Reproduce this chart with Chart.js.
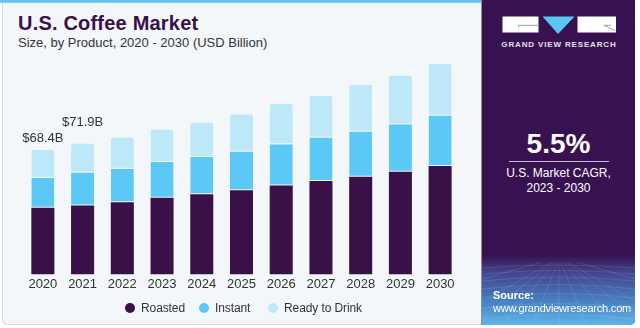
<!DOCTYPE html>
<html>
<head>
<meta charset="utf-8">
<script src="https://cdn.jsdelivr.net/npm/chart.js@4.4.1/dist/chart.umd.min.js"></script>
<style>
  html, body { margin: 0; padding: 0; background: #ffffff; }
  body { width: 640px; height: 328px; position: relative; overflow: hidden;
         font-family: "Liberation Sans", Arial, sans-serif; }
  #main { position: absolute; left: 2px; top: 0; width: 478px; height: 324px;
          background: #f3f7fa; border: 1px solid #d3d8dd; border-top: none;
          border-radius: 0 0 0 6px; }
  #strip { position: absolute; left: 0; top: 0; width: 481px; height: 3px;
           background: linear-gradient(#5cc6f2 0, #5cc6f2 2px, #a9def5 3px); }
  #title { position: absolute; left: 18px; top: 12px; font-size: 20px; font-weight: bold;
           color: #3a1048; letter-spacing: 0.2px; }
  #subtitle { position: absolute; left: 18px; top: 35px; font-size: 13px; color: #333333; }
  #chartBox { position: absolute; left: 0; top: 0; width: 481px; height: 328px; }
  #legend { position: absolute; left: 0; top: 299px; width: 481px; height: 18px;
            font-size: 12px; color: #333; letter-spacing: -0.1px; }
  .lg-item { position: absolute; top: 0; height: 18px; line-height: 18px; white-space: nowrap; }
  .lg-dot { position: absolute; top: 4px; width: 10px; height: 10px; border-radius: 50%; }
  #side { position: absolute; left: 481px; top: 0; width: 153px; height: 325px;
          background: #381250; border-radius: 0 0 5px 0; overflow: hidden;
          border-left: 1px solid #8a8f99; }
  #sideFade { position: absolute; left: 0; top: 255px; width: 153px; height: 70px;
              background: linear-gradient(rgba(70,110,190,0) 0%, rgba(70,110,190,0.55) 25%, #4a86c8 70%, #5fb4e6 100%); }
  #grid { position: absolute; left: 0; top: 262px; }
  #logo { position: absolute; left: 0; top: 0; }
  #cagr { position: absolute; left: 0; width: 153px; top: 128px; text-align: center;
          color: #ffffff; font-size: 28px; font-weight: bold; }
  #rule { position: absolute; left: 27px; top: 161px; width: 100px; height: 1px; background: #c9bfd2; }
  #cagrTxt { position: absolute; left: 0; width: 153px; top: 166px; text-align: center;
             color: #ffffff; font-size: 12px; line-height: 14.5px; }
  #src1 { position: absolute; left: 11px; top: 289px; color: #fff; font-size: 11px; font-weight: bold; }
  #src2 { position: absolute; left: 11px; top: 302px; color: #fff; font-size: 11px; letter-spacing: -0.2px; }
</style>
</head>
<body>
<div id="main"></div>
<div id="strip"></div>
<div id="title">U.S. Coffee Market</div>
<div id="subtitle">Size, by Product, 2020 - 2030 (USD Billion)</div>
<div id="chartBox"><canvas id="c" width="481" height="328"></canvas></div>
<div id="legend"></div>

<div id="side">
  <div id="sideFade"></div>
  <svg id="grid" width="153" height="63" viewBox="0 0 153 63">
    <g stroke="#ffffff" stroke-opacity="0.16" stroke-width="0.7" fill="none">
      <path d="M0 6 Q76 0 153 6"/>
      <path d="M0 12 Q76 5 153 12"/>
      <path d="M0 19 Q76 11 153 19"/>
      <path d="M0 27 Q76 18 153 27"/>
      <path d="M0 36 Q76 27 153 36"/>
      <path d="M0 46 Q76 37 153 46"/>
      <path d="M0 57 Q76 48 153 57"/>
      <path d="M70 0 L-40 63"/><path d="M72 0 L-10 63"/><path d="M74 0 L20 63"/>
      <path d="M76 0 L50 63"/><path d="M77 0 L77 63"/><path d="M79 0 L104 63"/>
      <path d="M81 0 L134 63"/><path d="M83 0 L164 63"/><path d="M85 0 L194 63"/>
      <path d="M60 0 L-80 40"/><path d="M95 0 L230 40"/>
    </g>
  </svg>
  <svg id="logo" width="153" height="50" viewBox="0 0 153 50">
    <rect x="20.5" y="16.5" width="36" height="16" fill="#ffffff"/>
    <polygon points="60.5,16.5 92.5,16.5 76,34" fill="#5cc6f2"/>
    <rect x="95.5" y="16.5" width="38.5" height="16" fill="#ffffff"/>
    <path d="M36.5 25.3 H56.5 M36.5 25.3 V27.5" stroke="#8a8790" stroke-width="0.8" fill="none"/>
    <path d="M122 25.3 H129 M122 25.3 L133.3 30.7" stroke="#8a8790" stroke-width="0.8" fill="none"/>
    <text x="77" y="47.2" text-anchor="middle" fill="#e4e0ea" font-family="Liberation Sans, Arial, sans-serif"
          font-size="8" font-weight="bold" letter-spacing="0.85">GRAND VIEW RESEARCH</text>
  </svg>
  <div id="cagr">5.5%</div>
  <div id="rule"></div>
  <div id="cagrTxt">U.S. Market CAGR,<br>2023 - 2030</div>
  <div id="src1">Source:</div>
  <div id="src2">www.grandviewresearch.com</div>
</div>

<script>
// Market size by product type, USD billion
const years = ['2020', '2021', '2022', '2023', '2024', '2025', '2026', '2027', '2028', '2029', '2030'];
const roasted = [36.7, 37.9, 39.7, 42.1, 44.1, 46.3, 48.8, 51.4, 53.7, 56.4, 59.6];
const instant = [16.4, 18.1, 18.4, 19.7, 20.4, 21.3, 22.8, 23.9, 24.8, 26.1, 27.7];
const readyToDrink = [15.3, 15.9, 17.2, 17.9, 19.0, 20.4, 22.0, 22.7, 25.7, 26.8, 28.4];
const seriesNames = ['Roasted', 'Instant', 'Ready to Drink'];
const seriesColors = ['#3a1048', '#5bc8f5', '#bde8f8'];
// Years whose total is written above the bar
const labelledYears = ['2020', '2021'];

const totals = years.map((_, i) => roasted[i] + instant[i] + readyToDrink[i]);

// Total labels above selected stacks
const totalLabels = {
  id: 'totalLabels',
  afterDatasetsDraw(chart) {
    const { ctx, scales: { x, y } } = chart;
    const lift = [12, 21];
    ctx.save();
    ctx.font = '13px "Liberation Sans", Arial, sans-serif';
    ctx.fillStyle = '#333333';
    ctx.textAlign = 'center';
    ctx.textBaseline = 'middle';
    labelledYears.forEach((yr, k) => {
      const i = years.indexOf(yr);
      const t = totals[i];
      ctx.fillText('$' + t.toFixed(1) + 'B', x.getPixelForValue(i), y.getPixelForValue(t) - lift[k]);
    });
    ctx.restore();
  }
};

const seriesValues = [roasted, instant, readyToDrink];
const datasets = seriesValues.map((vals, k) => ({
  label: seriesNames[k],
  data: vals,
  backgroundColor: seriesColors[k],
  borderColor: '#f3f7fa',
  borderWidth: k === 0 ? 0 : { bottom: 1 },
  borderSkipped: false,
  borderRadius: k === 2 ? { topLeft: 2, topRight: 2 } : 0,
  categoryPercentage: 1,
  barPercentage: 0.58
}));

new Chart(document.getElementById('c'), {
  type: 'bar',
  data: { labels: years, datasets },
  options: {
    responsive: false,
    animation: false,
    events: [],
    layout: { padding: { left: 23, right: 21, top: 47, bottom: 34 } },
    plugins: { legend: { display: false }, tooltip: { enabled: false }, title: { display: false } },
    scales: {
      x: {
        stacked: true,
        offset: true,
        grid: { display: false, drawTicks: false },
        border: { display: false },
        ticks: { color: '#333333', padding: 2, font: { size: 13, family: '"Liberation Sans", Arial, sans-serif' }, maxRotation: 0 }
      },
      y: { stacked: true, display: false, min: 0, max: 125 }
    }
  },
  plugins: [totalLabels]
});

// Legend row
const legendEl = document.getElementById('legend');
const legendX = [125, 199, 268];
seriesNames.forEach((name, k) => {
  const item = document.createElement('div');
  item.className = 'lg-item';
  item.style.left = legendX[k] + 'px';
  const dot = document.createElement('span');
  dot.className = 'lg-dot';
  dot.style.left = '0px';
  dot.style.background = seriesColors[k];
  const txt = document.createElement('span');
  txt.style.marginLeft = '16px';
  txt.textContent = name;
  item.appendChild(dot);
  item.appendChild(txt);
  legendEl.appendChild(item);
});
</script>
</body>
</html>
